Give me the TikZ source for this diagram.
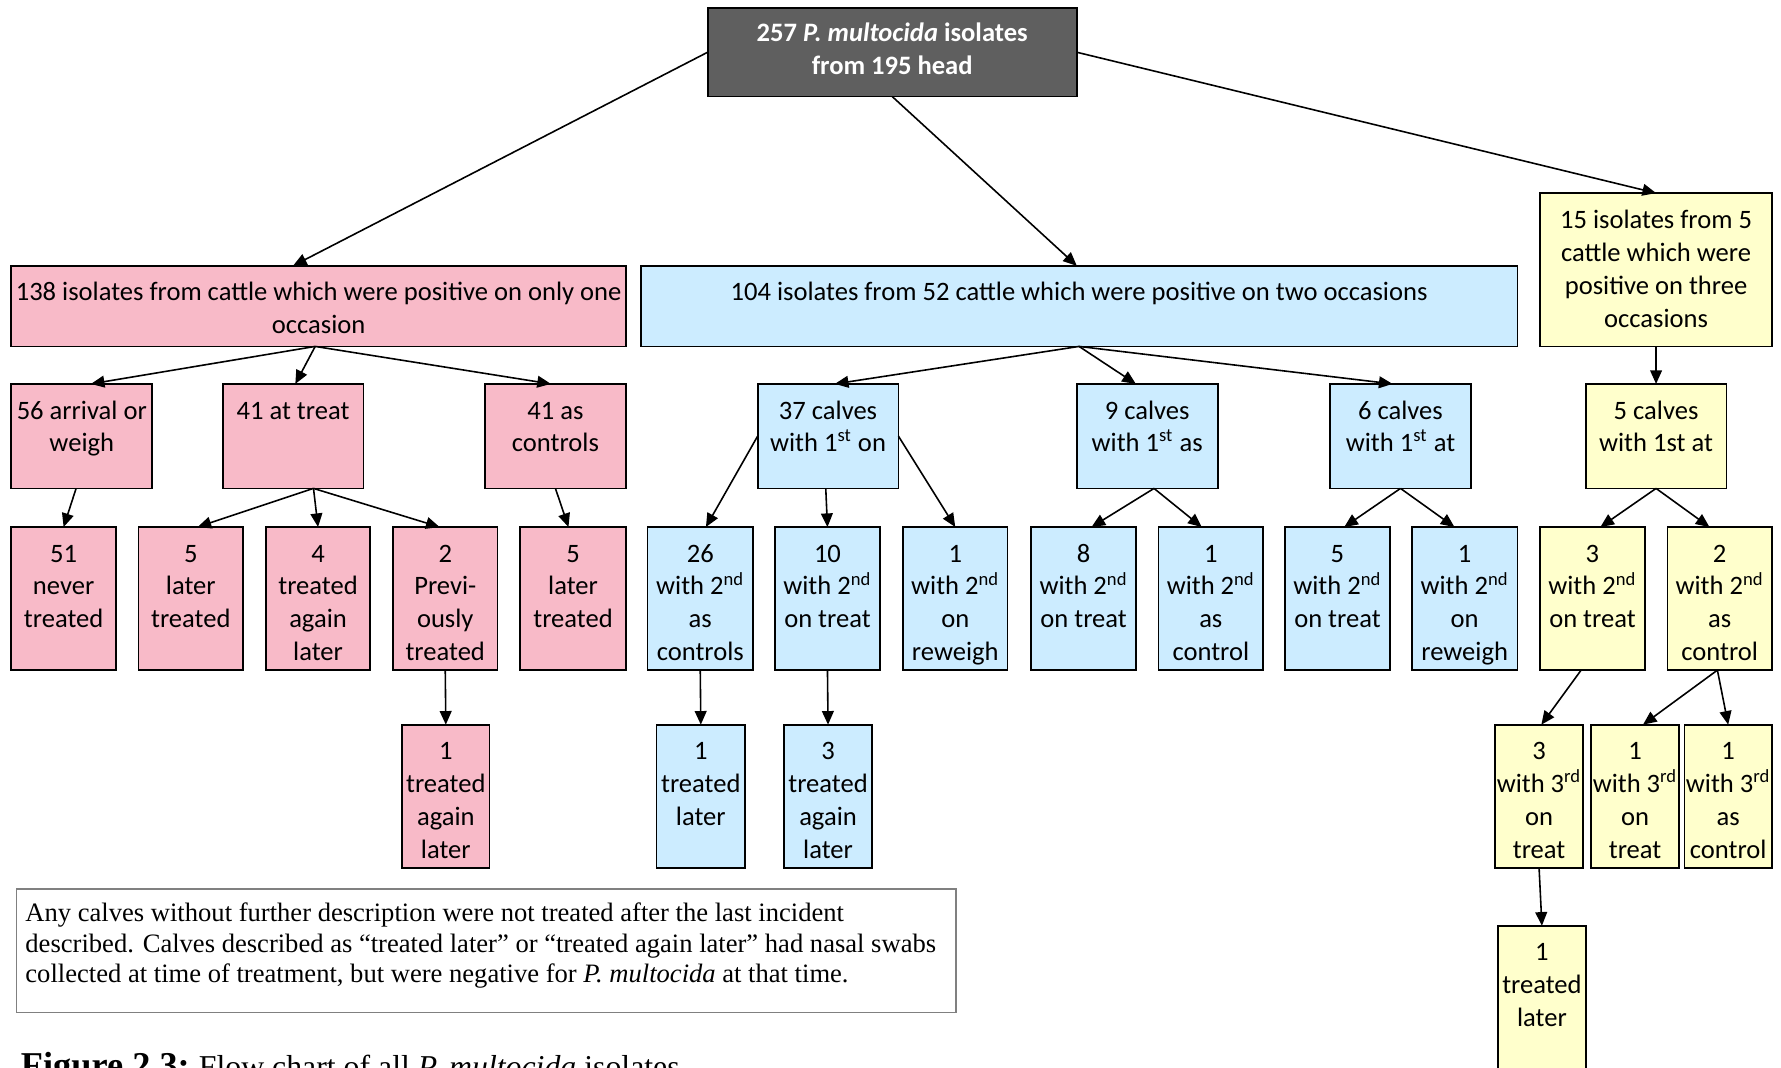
\documentclass[tikz,border=0pt]{standalone}
\usepackage{fontspec}
\setmainfont{Carlito}
\newfontfamily\timesfont{Liberation Serif}
\usetikzlibrary{arrows.meta,calc}
\definecolor{pinkf}{RGB}{248,186,200}
\definecolor{bluef}{RGB}{204,236,255}
\definecolor{yelf}{RGB}{255,255,204}
\definecolor{grayf}{RGB}{95,95,95}
\definecolor{notegray}{RGB}{128,128,128}
\newcommand\boxfont{\fontsize{11.7}{14.4}\selectfont}
\tikzset{
  cbox/.style={draw=black, line width=0.8pt, inner sep=0pt, outer sep=0pt},
  pinkbox/.style={cbox, fill=pinkf},
  bluebox/.style={cbox, fill=bluef},
  yelbox/.style={cbox, fill=yelf},
  topbox/.style={cbox, fill=grayf},
  boxtext/.style={align=center, inner sep=0pt, font=\boxfont},
  arr/.style={-{Triangle[length=6pt,width=5.2pt]}, line width=0.7pt},
}
% #1 first-baseline offset (pt), #2 name, #3 x1, #4 y1, #5 x2, #6 y2, #7 style, #8 text
\newcommand\flowbox[8][15.3]{%
  \pgfmathsetmacro\fbw{(#5-#3)*0.5}%
  \pgfmathsetmacro\fbh{(#6-#4)*0.5}%
  \pgfmathsetmacro\fbs{#1-10.08}%
  \node[#7, minimum width=\fbw pt, minimum height=\fbh pt, anchor=north west] (#2) at (#3,#4) {};
  \node[boxtext, anchor=north] (#2-t) at ($(#2.north)+(0pt,-\fbs pt)$) {\strut #8};
}
\newcommand\sth[1]{\textsuperscript{#1}}
\begin{document}
\begin{tikzpicture}[x=0.5pt, y=-0.5pt]
\clip (0,0) rectangle (1568,940);
\fill[white] (0,0) rectangle (1568,940);

% top
\node[topbox, minimum width=162.5pt, minimum height=39pt, anchor=north west] (top) at (623,7) {};
\node[boxtext, text=white, font=\boxfont\bfseries, anchor=north] (top-t) at ($(top.north)+(0pt,-4.5pt)$)
  {\strut 257 \textit{P. multocida} isolates\\from 195 head};

% level 1
\flowbox{A}{10}{234}{551}{305}{pinkbox}{138 isolates from cattle which were positive on only one\\occasion}
\flowbox{B}{564}{234}{1336}{305}{bluebox}{104 isolates from 52 cattle which were positive on two occasions}
\flowbox[15.6]{C}{1356}{170}{1560}{305}{yelbox}{15 isolates from 5\\cattle which were\\positive on three\\occasions}

% level 2
\flowbox{L56}{10}{338}{134}{430}{pinkbox}{56 arrival or\\weigh}
\flowbox{L41t}{196}{338}{320}{430}{pinkbox}{41 at treat}
\flowbox{L41c}{427}{338}{551}{430}{pinkbox}{41 as\\controls}
\flowbox{L37}{667}{338}{791}{430}{bluebox}{37 calves\\with 1\sth{st} on}
\flowbox{L9}{948}{338}{1072}{430}{bluebox}{9 calves\\with 1\sth{st} as}
\flowbox{L6}{1171}{338}{1295}{430}{bluebox}{6 calves\\with 1\sth{st} at}
\flowbox{L5}{1396}{338}{1520}{430}{yelbox}{5 calves\\with 1st at}

% level 3
\flowbox{P51}{10}{464}{102}{590}{pinkbox}{51\\never\\treated}
\flowbox{P5a}{122}{464}{214}{590}{pinkbox}{5\\later\\treated}
\flowbox{P4}{234}{464}{326}{590}{pinkbox}{4\\treated\\again\\later}
\flowbox{P2}{346}{464}{438}{590}{pinkbox}{2\\Previ-\\ously\\treated}
\flowbox{P5b}{458}{464}{551}{590}{pinkbox}{5\\later\\treated}
\flowbox{B26}{570}{464}{663}{590}{bluebox}{26\\with 2\sth{nd}\\as\\controls}
\flowbox{B10}{682}{464}{775}{590}{bluebox}{10\\with 2\sth{nd}\\on treat}
\flowbox{B1r}{795}{464}{887}{590}{bluebox}{1\\with 2\sth{nd}\\on\\reweigh}
\flowbox{B8}{908}{464}{1000}{590}{bluebox}{8\\with 2\sth{nd}\\on treat}
\flowbox{B1c}{1020}{464}{1112}{590}{bluebox}{1\\with 2\sth{nd}\\as\\control}
\flowbox{B5}{1131}{464}{1224}{590}{bluebox}{5\\with 2\sth{nd}\\on treat}
\flowbox{B1w}{1243}{464}{1336}{590}{bluebox}{1\\with 2\sth{nd}\\on\\reweigh}
\flowbox{Y3}{1356}{464}{1448}{590}{yelbox}{3\\with 2\sth{nd}\\on treat}
\flowbox{Y2}{1468}{464}{1560}{590}{yelbox}{2\\with 2\sth{nd}\\as\\control}

% level 4
\flowbox{P1}{354}{638}{431}{764}{pinkbox}{1\\treated\\again\\later}
\flowbox{B1t}{578}{638}{656}{764}{bluebox}{1\\treated\\later}
\flowbox{B3}{690}{638}{768}{764}{bluebox}{3\\treated\\again\\later}
\flowbox{Y3r}{1316}{638}{1394}{764}{yelbox}{3\\with 3\sth{rd}\\on\\treat}
\flowbox{Y1r}{1401}{638}{1478}{764}{yelbox}{1\\with 3\sth{rd}\\on\\treat}
\flowbox{Y1c}{1483}{638}{1560}{764}{yelbox}{1\\with 3\sth{rd}\\as\\control}

% level 5
\flowbox{Y1t}{1319}{815}{1396}{975}{yelbox}{1\\treated\\later}

% note
\node[draw=notegray, line width=0.6pt, inner sep=0pt, minimum width=413.5pt, minimum height=54.5pt, anchor=north west] (note) at (14,782) {};
\node[anchor=north west, inner sep=0pt, align=left, font=\timesfont\fontsize{11.7}{13.5}\selectfont] (note-t) at (22,792)
 {\strut Any calves without further description were not treated after the last incident\\
  described. Calves described as “treated later” or “treated again later” had nasal swabs\\
  collected at time of treatment, but were negative for \textit{P. multocida} at that time.};

% caption
\node[anchor=base west, inner sep=0pt, font=\timesfont\fontsize{14}{16}\selectfont] (cap) at (18,949)
 {{\bfseries\fontsize{16}{18}\selectfont Figure 2.3:}\hspace{4pt}Flow chart of all \textit{P. multocida} isolates};

% connectors
\draw[arr] (top.west) -- ($(A.north west)+(248,0)$);
\draw[arr] (top.south) -- ($(B.north west)+(384,0)$);
\draw[arr] (top.east) -- (C.north);

\draw[arr] ($(A.south)+(-3,0)$) -- ($(L56.north)+(8,0)$);
\draw[arr] ($(A.south)+(-3,0)$) -- ($(L41t.north)+(2,0)$);
\draw[arr] ($(A.south)+(-3,0)$) -- ($(L41c.north)+(-4,0)$);

\draw[arr] ($(L56.south)+(-5,0)$) -- (P51.north);
\draw[arr] ($(L41t.south)+(18,0)$) -- ($(P5a.north)+(6,0)$);
\draw[arr] ($(L41t.south)+(18,0)$) -- (P4.north);
\draw[arr] ($(L41t.south)+(18,0)$) -- ($(P2.north)+(-5,0)$);
\draw[arr] (L41c.south) -- ($(P5b.north)+(-4,0)$);
\draw[arr] (P2.south) -- (P1.north);

\draw[arr] (B.south) -- ($(L37.north)+(6,0)$);
\draw[arr] (B.south) -- ($(L9.north)+(-10,0)$);
\draw[arr] (B.south) -- ($(L6.north)+(-7,0)$);

\draw[arr] (L37.west) -- ($(B26.north)+(5,0)$);
\draw[arr] ($(L37.south)+(-2,0)$) -- (B10.north);
\draw[arr] (L37.east) -- (B1r.north);
\draw[arr] ($(L9.south)+(6,0)$) -- ($(B8.north)+(7,0)$);
\draw[arr] ($(L9.south)+(6,0)$) -- ($(B1c.north)+(-8,0)$);
\draw[arr] (L6.south) -- ($(B5.north)+(6,0)$);
\draw[arr] (L6.south) -- ($(B1w.north)+(-9,0)$);
\draw[arr] (B26.south) -- (B1t.north);
\draw[arr] (B10.south) -- (B3.north);

\draw[arr] (C.south) -- (L5.north);
\draw[arr] (L5.south) -- ($(Y3.north)+(7,0)$);
\draw[arr] (L5.south) -- ($(Y2.north)+(-9,0)$);
\draw[arr] ($(Y3.south)+(-10,0)$) -- ($(Y3r.north)+(2,0)$);
\draw[arr] ($(Y2.south)+(-2,0)$) -- ($(Y1r.north)+(7,0)$);
\draw[arr] ($(Y2.south)+(-2,0)$) -- (Y1c.north);
\draw[arr] (Y3r.south) -- (Y1t.north);
\end{tikzpicture}
\end{document}
